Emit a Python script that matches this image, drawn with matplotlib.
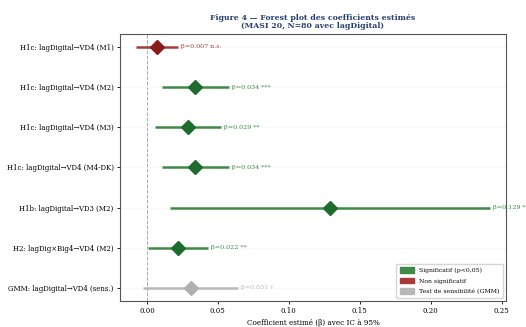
import matplotlib
matplotlib.use("Agg")
import matplotlib.pyplot as plt
from matplotlib.patches import Patch

# coefficient estimates
labels = ["H1c: lagDigital\u2192VD4 (M1)", "H1c: lagDigital\u2192VD4 (M2)",
          "H1c: lagDigital\u2192VD4 (M3)", "H1c: lagDigital\u2192VD4 (M4-DK)",
          "H1b: lagDigital\u2192VD3 (M2)", "H2: lagDig\u00d7Big4\u2192VD4 (M2)",
          "GMM: lagDigital\u2192VD4 (sens.)"]
beta = [0.007, 0.034, 0.029, 0.034, 0.129, 0.022, 0.031]
ci_lo = [-0.008, 0.0105, 0.0055, 0.0105, 0.016, 0.001, -0.003]
ci_hi = [0.022, 0.058, 0.052, 0.058, 0.2415, 0.043, 0.064]
stars = ["n.s.", "***", "**", "***", "***", "**", "\u2020"]
kind = ["ns", "sig", "sig", "sig", "sig", "sig", "gmm"]

line_col = {"sig": "#3d8b47", "ns": "#a83a3a", "gmm": "#b8b8b8"}
mark_col = {"sig": "#1e6b2e", "ns": "#8b1a1a", "gmm": "#b0b0b0"}

plt.rcParams['font.family'] = ['DejaVu Serif']

fig = plt.figure(figsize=(5.26, 3.27), dpi=100)
ax = fig.add_axes([0.228, 0.080, 0.734, 0.816])

for i in range(len(labels)):
    k = kind[i]
    ax.plot([ci_lo[i], ci_hi[i]], [i, i], color=line_col[k], lw=1.8, solid_capstyle='butt', zorder=2)
    ax.plot(beta[i], i, marker='D', color=mark_col[k], markersize=7, zorder=3)
    ax.text(ci_hi[i] + 0.002, i, "\u03b2=%.3f %s" % (beta[i], stars[i]),
            color=line_col[k], fontsize=4.6, va='center', ha='left', clip_on=False)

ax.axvline(0, color='#aaaaaa', ls='--', lw=0.7, zorder=1)
ax.set_yticks(range(len(labels)))
ax.set_yticklabels(labels)
ax.set_ylim(6.32, -0.32)
ax.set_xlim(-0.019, 0.253)
ax.set_xticks([0.0, 0.05, 0.10, 0.15, 0.20, 0.25])
ax.set_xticklabels(["0.00", "0.05", "0.10", "0.15", "0.20", "0.25"])
ax.tick_params(labelsize=5, length=2.5, width=0.6, pad=2)
ax.grid(axis='y', color='#eeeeee', ls=':', lw=0.6)
for s in ax.spines.values():
    s.set_color('#555555')
    s.set_linewidth(0.8)

ax.set_xlabel("Coefficient estim\u00e9 (\u03b2) avec IC \u00e0 95%", fontsize=5.2, labelpad=3)
ax.set_title("Figure 4 \u2014 Forest plot des coefficients estim\u00e9s\n(MASI 20, N=80 avec lagDigital)",
             fontsize=5.6, fontweight='bold', color='#263f6e', pad=4, linespacing=1.1)

handles = [Patch(color=line_col["sig"], label="Significatif (p<0,05)"),
           Patch(color=line_col["ns"], label="Non significatif"),
           Patch(color=line_col["gmm"], label="Test de sensibilit\u00e9 (GMM)")]
ax.legend(handles=handles, loc='lower right', fontsize=4.4, frameon=True,
          handlelength=2.3, handleheight=1.0, borderpad=0.6, labelspacing=0.75)

fig.savefig("out.png", dpi=100)
